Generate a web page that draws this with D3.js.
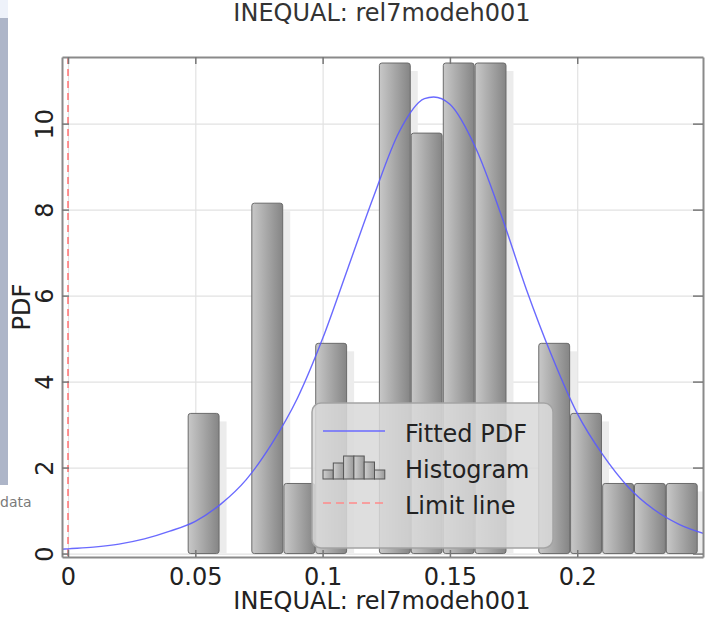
<!DOCTYPE html>
<html>
<head>
<meta charset="utf-8">
<script src="https://cdn.jsdelivr.net/npm/d3@7"></script>
<style>
  html, body { margin: 0; padding: 0; background: #ffffff; }
  svg { display: block; font-family: "DejaVu Sans", Verdana, sans-serif; }
</style>
</head>
<body>
<svg id="chart" width="720" height="621"></svg>
<script>
// ---------------- data ----------------
const chartTitle = "INEQUAL: rel7modeh001";
const xAxisTitle = "INEQUAL: rel7modeh001";
const yAxisTitle = "PDF";

// histogram bins (left edge, common width) and density heights
const binLeft = [0.0470, 0.0595, 0.0720, 0.0846, 0.0971, 0.1096, 0.1221, 0.1346,
                 0.1472, 0.1597, 0.1722, 0.1847, 0.1972, 0.2098, 0.2223, 0.2348];
const binWidth = 0.01252;
const binHeight = [3.26, 0, 8.15, 1.63, 4.89, 0, 11.41, 9.78,
                   11.41, 11.41, 0, 4.89, 3.26, 1.63, 1.63, 1.63];

// fitted PDF
const pdfX = [-0.0024, 0.00, 0.01, 0.02, 0.03, 0.04, 0.05, 0.06, 0.07, 0.08, 0.09, 0.10,
              0.11, 0.12, 0.13, 0.14, 0.1436, 0.15, 0.16, 0.17, 0.18, 0.19, 0.20,
              0.21, 0.22, 0.23, 0.24, 0.25];
const pdfY = [0.10, 0.11, 0.15, 0.22, 0.34, 0.52, 0.75, 1.15, 1.72, 2.55, 3.60, 5.00,
              6.65, 8.30, 9.80, 10.58, 10.62, 10.45, 9.45, 7.90, 6.15, 4.60, 3.26,
              2.30, 1.55, 1.03, 0.68, 0.46];

const limitX = 0;

const xTicks = [0, 0.05, 0.1, 0.15, 0.2];
const xTickLabels = ["0", "0.05", "0.1", "0.15", "0.2"];
const yTicks = [0, 2, 4, 6, 8, 10];
const yTickLabels = ["0", "2", "4", "6", "8", "10"];

const legendLabels = ["Fitted PDF", "Histogram", "Limit line"];

// ---------------- layout ----------------
const svg = d3.select("#chart");
const L = 62, R = 703, T = 57, B = 557;
const x = d3.scaleLinear().domain([-0.00236, 0.2494]).range([L, R]);
const y = d3.scaleLinear().domain([-0.08, 11.55]).range([B, T]);
const FS = 24;

// screenshot artefacts on the left edge
svg.append("rect").attr("x", 0).attr("y", 0).attr("width", 8).attr("height", 18).attr("fill", "#eef2fa");
svg.append("rect").attr("x", 0).attr("y", 18).attr("width", 8).attr("height", 467).attr("fill", "#adb5c8");
svg.append("text").attr("x", 0).attr("y", 507).attr("font-size", 14).attr("fill", "#7a7a7a").text("data");

const defs = svg.append("defs");
const grad = defs.append("linearGradient").attr("id", "barGrad").attr("x1", "0%").attr("x2", "100%").attr("y1", "0%").attr("y2", "0%");
grad.append("stop").attr("offset", "0%").attr("stop-color", "#c8c8c8");
grad.append("stop").attr("offset", "100%").attr("stop-color", "#858585");
const igrad = defs.append("linearGradient").attr("id", "iconGrad").attr("x1", "0%").attr("x2", "100%").attr("y1", "0%").attr("y2", "0%");
igrad.append("stop").attr("offset", "0%").attr("stop-color", "#d0d0d0");
igrad.append("stop").attr("offset", "100%").attr("stop-color", "#9a9a9a");
defs.append("clipPath").attr("id", "plotClip").append("rect")
  .attr("x", L).attr("y", T).attr("width", R - L).attr("height", B - T);

// grid
const gridX = svg.append("g").attr("transform", `translate(0,${B})`)
  .call(d3.axisBottom(x).tickValues(xTicks).tickSize(-(B - T)).tickFormat(""));
gridX.select(".domain").remove();
gridX.selectAll("line").attr("stroke", "#e2e2e2").attr("stroke-width", 1.2);
const gridY = svg.append("g").attr("transform", `translate(${L},0)`)
  .call(d3.axisLeft(y).tickValues(yTicks).tickSize(-(R - L)).tickFormat(""));
gridY.select(".domain").remove();
gridY.selectAll("line").attr("stroke", "#e2e2e2").attr("stroke-width", 1.2);

const bins = binLeft.map((b, i) => ({ x0: b, x1: b + binWidth, h: binHeight[i] })).filter(d => d.h > 0);
const plot = svg.append("g").attr("clip-path", "url(#plotClip)");

// bar shadows
plot.selectAll("rect.shadow").data(bins).enter().append("rect")
  .attr("class", "shadow")
  .attr("x", d => x(d.x0) + 7)
  .attr("y", d => y(d.h) + 8)
  .attr("width", d => x(d.x1) - x(d.x0))
  .attr("height", d => y(0) - y(d.h) - 8)
  .attr("fill", "#ececec");

// bars
plot.selectAll("rect.bar").data(bins).enter().append("rect")
  .attr("class", "bar")
  .attr("x", d => x(d.x0) + 0.5)
  .attr("y", d => y(d.h))
  .attr("width", d => x(d.x1) - x(d.x0) - 1)
  .attr("height", d => y(0) - y(d.h))
  .attr("rx", 2.5)
  .attr("fill", "url(#barGrad)")
  .attr("stroke", "#6a6a6a")
  .attr("stroke-width", 1);

// limit line
plot.append("line")
  .attr("x1", x(limitX)).attr("x2", x(limitX)).attr("y1", T).attr("y2", B)
  .attr("stroke", "#ff7070").attr("stroke-width", 1.5).attr("stroke-dasharray", "7,5");

// fitted pdf
const pdf = pdfX.map((v, i) => [v, pdfY[i]]);
plot.append("path").datum(pdf)
  .attr("fill", "none")
  .attr("stroke", "#5a5aff").attr("stroke-opacity", 0.9).attr("stroke-width", 1.4)
  .attr("d", d3.line().x(d => x(d[0])).y(d => y(d[1])).curve(d3.curveMonotoneX));

// axes (ticks inward, frame)
function styleAxis(g) {
  g.select(".domain").attr("stroke", "#8a8a8a").attr("stroke-width", 2);
  g.selectAll(".tick line").attr("stroke", "#777").attr("stroke-width", 1.5);
}
const xAxis = svg.append("g").attr("transform", `translate(0,${B})`)
  .call(d3.axisBottom(x).tickValues(xTicks).tickSize(-7).tickSizeOuter(0)
    .tickFormat((d, i) => xTickLabels[i]));
styleAxis(xAxis);
xAxis.selectAll("text").attr("y", 28).attr("dy", 0).attr("font-size", FS)
  .attr("fill", "#222").attr("font-family", "DejaVu Sans, Verdana, sans-serif");

const yAxis = svg.append("g").attr("transform", `translate(${L},0)`)
  .call(d3.axisLeft(y).tickValues(yTicks).tickSize(-7).tickSizeOuter(0)
    .tickFormat((d, i) => yTickLabels[i]));
styleAxis(yAxis);
yAxis.selectAll("text").attr("x", 0).attr("y", 0).attr("dy", 0)
  .attr("text-anchor", "middle").attr("transform", "translate(-9,0) rotate(-90)")
  .attr("font-size", FS).attr("fill", "#222").attr("font-family", "DejaVu Sans, Verdana, sans-serif");

const topAxis = svg.append("g").attr("transform", `translate(0,${T})`)
  .call(d3.axisTop(x).tickValues(xTicks).tickSize(-7).tickSizeOuter(0).tickFormat(""));
styleAxis(topAxis);
const rightAxis = svg.append("g").attr("transform", `translate(${R},0)`)
  .call(d3.axisRight(y).tickValues(yTicks).tickSize(-10).tickSizeOuter(0).tickFormat(""));
styleAxis(rightAxis);

// titles
svg.append("text").attr("x", 382).attr("y", 21).attr("text-anchor", "middle")
  .attr("font-size", FS).attr("fill", "#333").text(chartTitle);
svg.append("text").attr("x", 382).attr("y", 609).attr("text-anchor", "middle")
  .attr("font-size", FS).attr("fill", "#222").text(xAxisTitle);
svg.append("text").attr("transform", `translate(30,${(T + B) / 2}) rotate(-90)`)
  .attr("text-anchor", "middle").attr("font-size", FS).attr("fill", "#222").text(yAxisTitle);

// legend
const lg = svg.append("g");
lg.append("rect").attr("x", 312).attr("y", 403).attr("width", 241).attr("height", 145)
  .attr("rx", 9).attr("fill", "#d8d8d8").attr("fill-opacity", 0.86)
  .attr("stroke", "#a4a4a4").attr("stroke-width", 1.5);
lg.append("line").attr("x1", 323).attr("x2", 385).attr("y1", 431).attr("y2", 431)
  .attr("stroke", "#6a6aff").attr("stroke-width", 1.6);
const iconH = [9, 16, 23, 23, 17, 9];
iconH.forEach((h, i) => {
  lg.append("rect").attr("x", 323 + i * 10.3).attr("y", 479 - h).attr("width", 10.3).attr("height", h)
    .attr("fill", "url(#iconGrad)").attr("stroke", "#555").attr("stroke-width", 1);
});
lg.append("line").attr("x1", 323).attr("x2", 385).attr("y1", 503).attr("y2", 503)
  .attr("stroke", "#ff8a8a").attr("stroke-width", 1.6).attr("stroke-dasharray", "8,5");
[442, 478, 514].forEach((yy, i) => {
  lg.append("text").attr("x", 405).attr("y", yy).attr("font-size", FS).attr("fill", "#222").text(legendLabels[i]);
});
</script>
</body>
</html>
